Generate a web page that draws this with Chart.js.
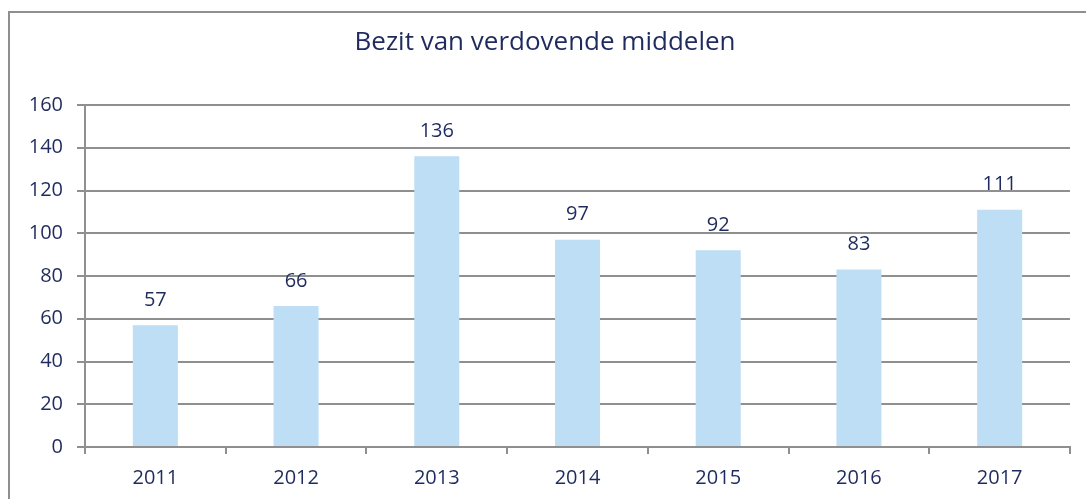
<!DOCTYPE html>
<html>
<head>
<meta charset="utf-8">
<script src="https://cdn.jsdelivr.net/npm/chart.js@4"></script>
<style>
  html, body { margin: 0; padding: 0; background: #fff; }
  #wrap { width: 1086px; height: 499px; position: relative; }
</style>
</head>
<body>
<div id="wrap"><canvas id="myChart"></canvas></div>
<script>
const jaren = ['2011', '2012', '2013', '2014', '2015', '2016', '2017'];
const aantallen = [57, 66, 136, 97, 92, 83, 111];
const titel = 'Bezit van verdovende middelen';

const tekstKleur = '#1F2B5E';
const lijnKleur = '#8F8F8F';
const font = '"Open Sans", sans-serif';

// rand en titel van de grafiek
const randPlugin = {
  id: 'rand',
  beforeDraw(chart) {
    const ctx = chart.ctx;
    ctx.save();
    ctx.strokeStyle = lijnKleur;
    ctx.lineWidth = 2;
    ctx.strokeRect(9, 12, 1200, 800);
    ctx.fillStyle = tekstKleur;
    ctx.font = '26px ' + font;
    ctx.textAlign = 'center';
    ctx.textBaseline = 'middle';
    ctx.fillText(titel, 545, 43);
    ctx.restore();
  },
};

// getallen boven de staven
const labelPlugin = {
  id: 'labels',
  afterDatasetsDraw(chart) {
    const ctx = chart.ctx;
    const meta = chart.getDatasetMeta(0);
    ctx.save();
    ctx.fillStyle = tekstKleur;
    ctx.font = '20px ' + font;
    ctx.textAlign = 'center';
    ctx.textBaseline = 'middle';
    meta.data.forEach((bar, i) => {
      ctx.fillText(String(aantallen[i]), bar.x, bar.y - 25);
    });
    ctx.restore();
  },
};

const ctx = document.getElementById('myChart');

new Chart(ctx, {
  type: 'bar',
  data: {
    labels: jaren,
    datasets: [
      {
        data: aantallen,
        backgroundColor: '#BDDEF5',
        borderWidth: 0,
        barPercentage: 0.32,
        categoryPercentage: 1,
      },
    ],
  },
  options: {
    responsive: true,
    maintainAspectRatio: false,
    animation: false,
    layout: {
      padding: {left: 0, right: 16, top: 105, bottom: 0},
    },
    plugins: {
      legend: {display: false},
      tooltip: {enabled: false},
      title: {display: false},
    },
    scales: {
      x: {
        grid: {
          drawOnChartArea: false,
          drawTicks: true,
          tickLength: 7,
          color: lijnKleur,
          lineWidth: 2,
        },
        border: {color: lijnKleur, width: 2},
        ticks: {
          color: tekstKleur,
          font: {family: font, size: 20},
          padding: 12,
        },
        afterFit(scale) {
          scale.height = 52;
        },
      },
      y: {
        min: 0,
        max: 160,
        ticks: {
          stepSize: 20,
          color: tekstKleur,
          font: {family: font, size: 20},
          padding: 14,
        },
        grid: {
          color: lijnKleur,
          lineWidth: 2,
          tickLength: 8,
        },
        border: {color: lijnKleur, width: 2},
        afterFit(scale) {
          scale.width = 85;
        },
      },
    },
  },
  plugins: [randPlugin, labelPlugin],
});
</script>
</body>
</html>
